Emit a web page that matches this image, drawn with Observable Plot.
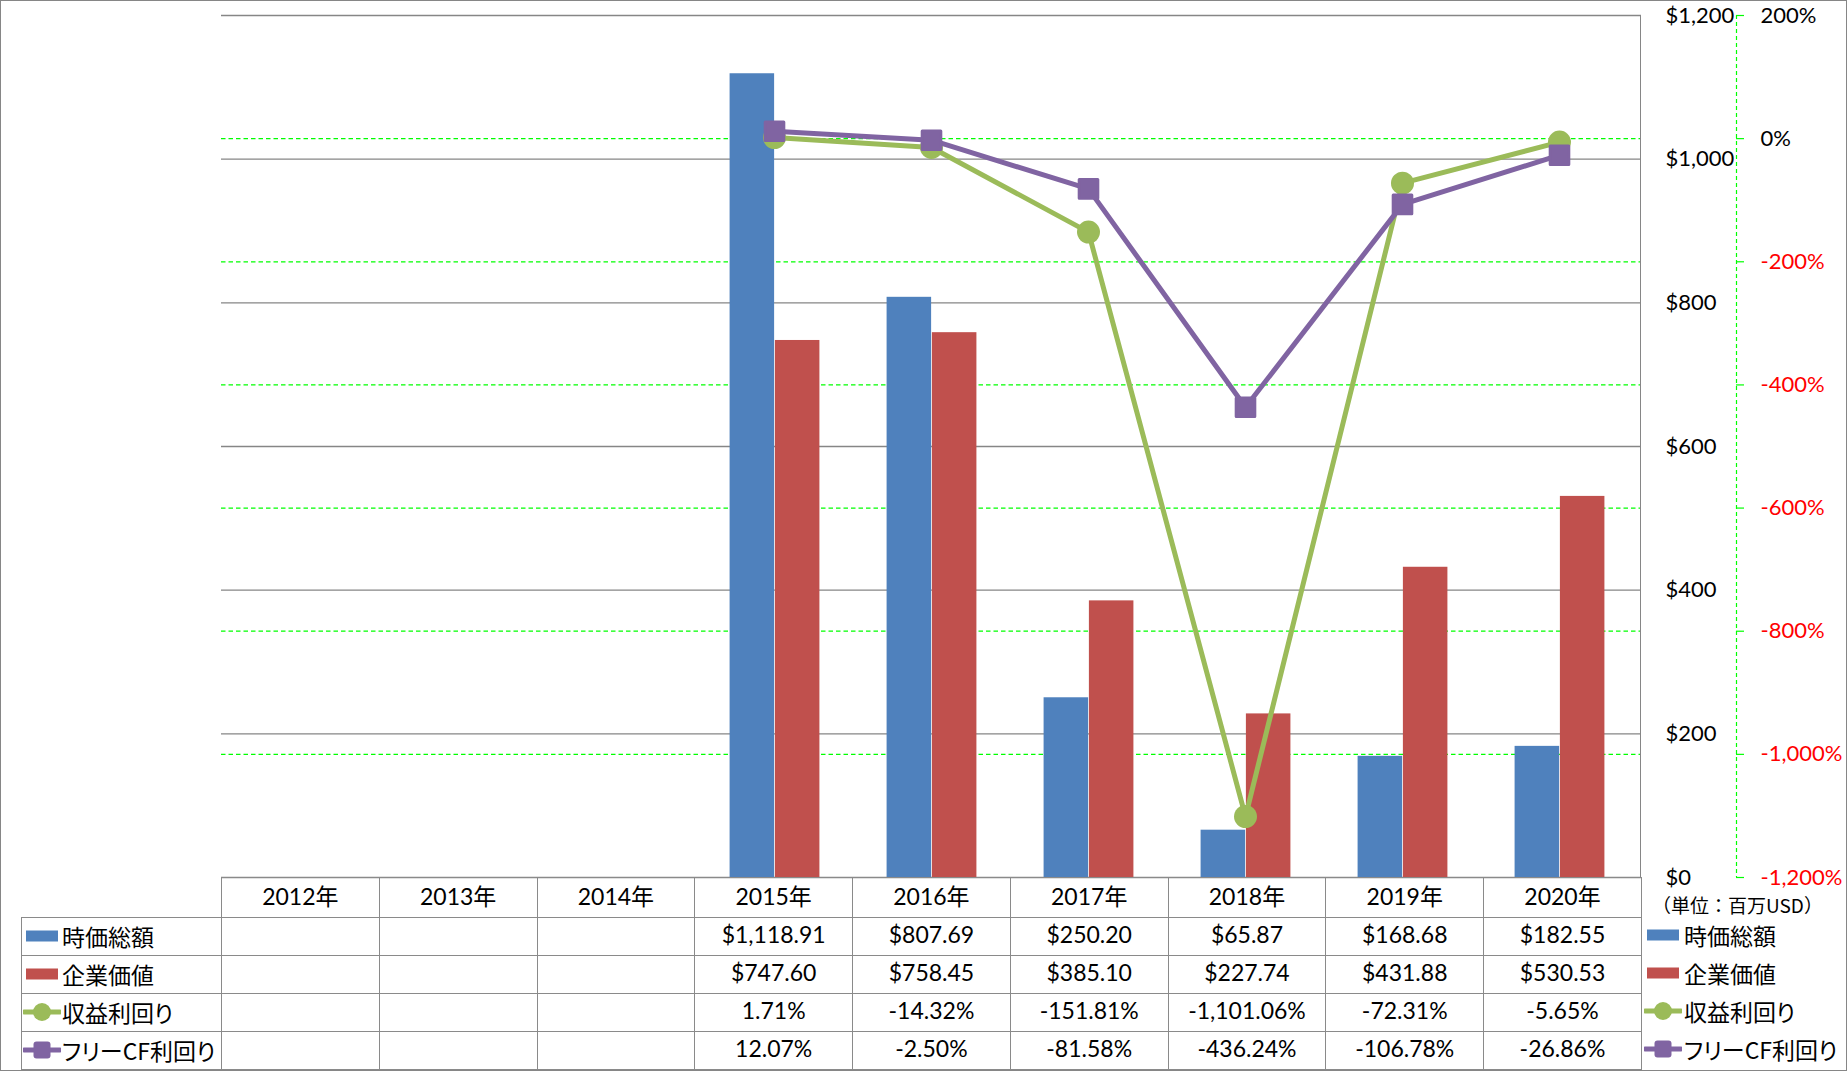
<!DOCTYPE html>
<html><head><meta charset="utf-8">
<script src="https://cdn.jsdelivr.net/npm/d3@7"></script>
<script src="https://cdn.jsdelivr.net/npm/@observablehq/plot@0.6"></script>
<style>
html,body{margin:0;padding:0;background:#fff;}
#chart{position:relative;width:1847px;height:1071px;overflow:hidden;background:#fff;font-family:Lato,"Noto Sans CJK JP",sans-serif;color:#000;}
#chart .layer{position:absolute;left:0;top:0;}
#frameBorder{position:absolute;left:0;top:0;width:1847px;height:1071px;box-sizing:border-box;border:1px solid #868686;pointer-events:none;}
#rightEdge{position:absolute;left:1640px;top:15px;width:1px;height:862px;background:#868686;}
table#tbl{position:absolute;left:21px;top:877px;border-collapse:collapse;table-layout:fixed;width:1620px;font-size:23px;}
#tbl td{border:1px solid #8a8a8a;padding:0;text-align:center;white-space:nowrap;overflow:hidden;box-sizing:border-box;}
#tbl td span.v{position:relative;top:-3px;}
#tbl tr.hdr td{height:40px;}
#tbl tr.row td{height:38px;}
#tbl td.blank{border-top:none;border-left:none;}
#tbl td.lab{text-align:left;}
.labwrap{display:flex;align-items:center;gap:1px;padding-left:1px;font-family:"Noto Sans CJK JP",sans-serif;font-size:23px;position:relative;top:-1px;white-space:nowrap;font-feature-settings:"palt";}
#unit{position:absolute;left:1652px;top:891px;font-family:"Noto Sans CJK JP",sans-serif;font-size:19px;white-space:nowrap;}
.leg{position:absolute;left:1644px;height:38px;display:flex;align-items:center;gap:2px;font-family:"Noto Sans CJK JP",sans-serif;font-size:23px;white-space:nowrap;font-feature-settings:"palt";}
</style>
</head><body>
<div id="chart"></div>
<script>
// ---- data ----
const years = ["2012年","2013年","2014年","2015年","2016年","2017年","2018年","2019年","2020年"];
const marketCap = [null,null,null,1118.91,807.69,250.20,65.87,168.68,182.55];
const enterpriseValue = [null,null,null,747.60,758.45,385.10,227.74,431.88,530.53];
const earningsYield = [null,null,null,1.71,-14.32,-151.81,-1101.06,-72.31,-5.65];
const fcfYield = [null,null,null,12.07,-2.50,-81.58,-436.24,-106.78,-26.86];
const seriesNames = ["時価総額","企業価値","収益利回り","フリーCF利回り"];
const dollarTicks = [0,200,400,600,800,1000,1200];
const pctTicks = [200,0,-200,-400,-600,-800,-1000,-1200];
const pctGrid = [0,-200,-400,-600,-800,-1000];
const unitLabel = "（単位：百万USD）";

const colors = {mcap:"#4F81BD", ev:"#C0504D", earn:"#9BBB59", fcf:"#8064A2"};

// ---- formats ----
const loc = d3.formatLocale({decimal:".", thousands:",", grouping:[3], currency:["$",""], minus:"-"});
const fmtMoney = loc.format("$,.2f");
const fmtPct = v => loc.format(",.2f")(v) + "%";
const fmtDollarTick = loc.format("$,");
const fmtPctTick = v => loc.format(",")(v) + "%";

// ---- layout ----
const W = 1847, H = 880;
const mL = 221, mR = 206, mT = 15, mB = 3;
const bw = (W - mL - mR) / years.length;
const barW = 45.3;
const styleT = {background:"transparent", overflow:"visible", fontFamily:'Lato,"Noto Sans CJK JP",sans-serif', fontSize:"22px", color:"#000"};
const common = {width:W, height:H, marginLeft:mL, marginRight:mR, marginTop:mT, marginBottom:mB, style:styleT};

const barRows = years.map((y,i)=>({year:y, mcap:marketCap[i], ev:enterpriseValue[i]})).filter(d=>d.mcap!=null);
const yieldRows = years.map((y,i)=>({year:y, earn:earningsYield[i], fcf:fcfYield[i]})).filter(d=>d.earn!=null);

const chart = document.getElementById("chart");
function addLayer(svg){ svg.classList.add("layer"); chart.appendChild(svg); }

// Layer A: secondary green dashed gridlines
addLayer(Plot.plot({...common,
  y:{domain:[-1200,200], axis:null},
  marks:[Plot.ruleY(pctGrid, {stroke:"#00ff00", strokeWidth:1.2, strokeDasharray:"4.5,3"})]
}));

// Layer B: primary gridlines, bars, $ labels
addLayer(Plot.plot({...common,
  x:{type:"band", domain:years, padding:0, axis:null},
  y:{domain:[0,1200], axis:null},
  marks:[
    Plot.ruleY(dollarTicks, {stroke:"#868686", strokeWidth:1.3}),
    Plot.barY(barRows, {x:"year", y:"mcap", fill:colors.mcap, insetLeft:bw/2-barW, insetRight:bw/2}),
    Plot.barY(barRows, {x:"year", y:"ev", fill:colors.ev, insetLeft:bw/2, insetRight:bw/2-barW}),
    Plot.text(dollarTicks, {y:d=>d, text:d=>fmtDollarTick(d), frameAnchor:"right", textAnchor:"start", dx:24, fontSize:22, fill:"#000"})
  ]
}));

// Layer C: yield lines
addLayer(Plot.plot({...common,
  x:{type:"point", domain:years, padding:0.5, axis:null},
  y:{domain:[-1200,200], axis:null},
  marks:[
    Plot.line(yieldRows, {x:"year", y:"earn", stroke:colors.earn, strokeWidth:5}),
    Plot.dot(yieldRows, {x:"year", y:"earn", r:11.5, fill:colors.earn}),
    Plot.line(yieldRows, {x:"year", y:"fcf", stroke:colors.fcf, strokeWidth:5}),
    Plot.dot(yieldRows, {x:"year", y:"fcf", symbol:"square", r:10.5, fill:colors.fcf, stroke:colors.fcf, strokeWidth:3, strokeLinejoin:"round"})
  ]
}));

// Layer D: secondary axis
addLayer(Plot.plot({width:W, height:H, marginLeft:1736, marginRight:W-1744, marginTop:mT, marginBottom:mB, style:styleT,
  x:{domain:[0,1], axis:null},
  y:{domain:[-1200,200], axis:null},
  marks:[
    Plot.ruleX([0], {stroke:"#00ff00", strokeWidth:1.2, strokeDasharray:"4,3"}),
    Plot.ruleY(pctTicks, {x1:0, x2:1, stroke:"#00ff00", strokeWidth:1.2}),
    Plot.text(pctTicks.filter(d=>d>=0), {y:d=>d, text:fmtPctTick, frameAnchor:"right", textAnchor:"start", dx:16, fontSize:22, fill:"#000"}),
    Plot.text(pctTicks.filter(d=>d<0), {y:d=>d, text:fmtPctTick, frameAnchor:"right", textAnchor:"start", dx:16, fontSize:22, fill:"#ff0000"})
  ]
}));

// ---- legend swatches ----
function swatch(kind, color){
  const ns = "http://www.w3.org/2000/svg";
  const s = document.createElementNS(ns,"svg");
  s.setAttribute("width", 38); s.setAttribute("height", 22);
  s.style.flex = "none";
  let html = "";
  if (kind === "bar") html = `<rect x="3" y="5.5" width="32" height="11" fill="${color}"/>`;
  else {
    html = `<line x1="1" x2="37" y1="11" y2="11" stroke="${color}" stroke-width="5" stroke-linecap="round"/>`;
    if (kind === "circle") html += `<circle cx="19" cy="11" r="9" fill="${color}"/>`;
    else html += `<rect x="10.5" y="2.5" width="17" height="17" rx="3" fill="${color}"/>`;
  }
  s.innerHTML = html;
  return s;
}
const kinds = ["bar","bar","circle","square"];
const cols = [colors.mcap, colors.ev, colors.earn, colors.fcf];
const rowsVals = [
  marketCap.map(v => v==null ? "" : fmtMoney(v)),
  enterpriseValue.map(v => v==null ? "" : fmtMoney(v)),
  earningsYield.map(v => v==null ? "" : fmtPct(v)),
  fcfYield.map(v => v==null ? "" : fmtPct(v))
];

function valCell(text){
  const td = document.createElement("td");
  const sp = document.createElement("span"); sp.className = "v"; sp.textContent = text;
  td.appendChild(sp);
  return td;
}

// ---- data table ----
const tbl = document.createElement("table");
tbl.id = "tbl";
const cg = document.createElement("colgroup");
const c0 = document.createElement("col"); c0.style.width = "200px"; cg.appendChild(c0);
years.forEach(()=>{ const c = document.createElement("col"); c.style.width = bw + "px"; cg.appendChild(c); });
tbl.appendChild(cg);
const hdr = document.createElement("tr"); hdr.className = "hdr";
const blank = document.createElement("td"); blank.className = "blank"; hdr.appendChild(blank);
years.forEach(y => hdr.appendChild(valCell(y)));
tbl.appendChild(hdr);
seriesNames.forEach((name, i) => {
  const tr = document.createElement("tr"); tr.className = "row";
  const lab = document.createElement("td"); lab.className = "lab";
  const wrap = document.createElement("div"); wrap.className = "labwrap";
  wrap.appendChild(swatch(kinds[i], cols[i]));
  const sp = document.createElement("span"); sp.textContent = name; wrap.appendChild(sp);
  lab.appendChild(wrap); tr.appendChild(lab);
  rowsVals[i].forEach(v => tr.appendChild(valCell(v)));
  tbl.appendChild(tr);
});
chart.appendChild(tbl);

// right edge of plot area
const re = document.createElement("div"); re.id = "rightEdge"; chart.appendChild(re);

// ---- right legend ----
const unit = document.createElement("div"); unit.id = "unit"; unit.textContent = unitLabel; chart.appendChild(unit);
seriesNames.forEach((name, i) => {
  const d = document.createElement("div"); d.className = "leg";
  d.style.top = (916 + i*38) + "px";
  d.appendChild(swatch(kinds[i], cols[i]));
  const sp = document.createElement("span"); sp.textContent = name; d.appendChild(sp);
  chart.appendChild(d);
});

const fb = document.createElement("div"); fb.id = "frameBorder"; chart.appendChild(fb);
</script>
</body></html>
